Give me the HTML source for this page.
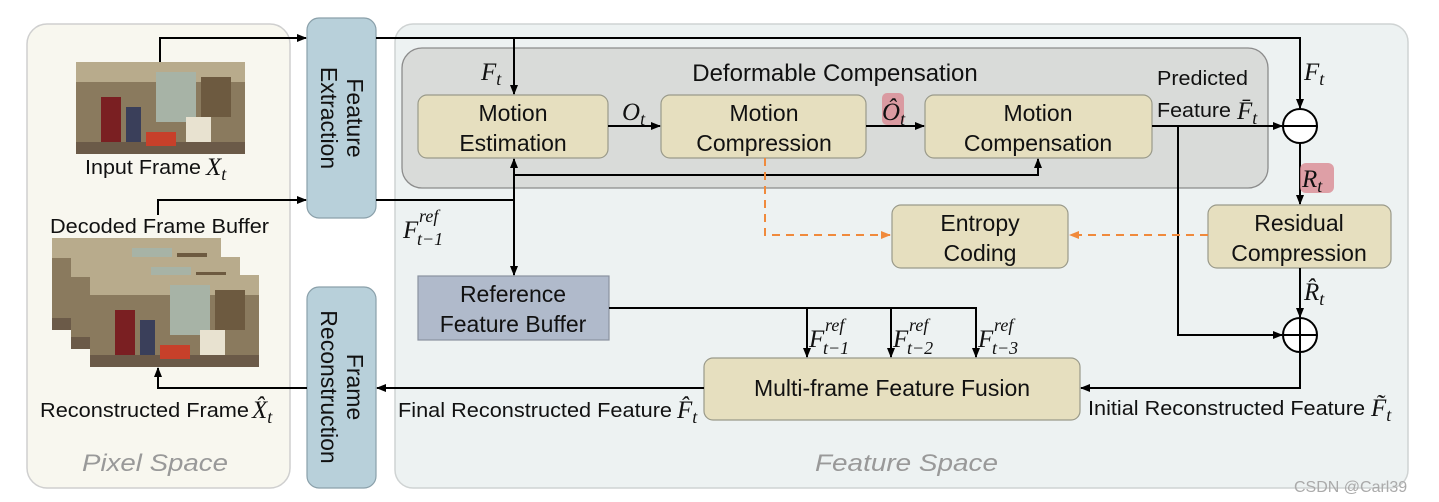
<!DOCTYPE html>
<html><head><meta charset="utf-8"><style>
html,body{margin:0;padding:0;background:#fff;}
svg{display:block}
.t{font-family:"Liberation Sans",sans-serif;fill:#111}
.m{font-family:"Liberation Serif",serif;font-style:italic;fill:#111}
.s{font-family:"Liberation Serif",serif;font-style:italic;fill:#111;font-size:18px}
</style></head><body>
<svg width="1439" height="502" viewBox="0 0 1439 502" xmlns="http://www.w3.org/2000/svg">
<defs>
<marker id="a" markerWidth="10" markerHeight="10" refX="9" refY="5" orient="auto" markerUnits="userSpaceOnUse"><path d="M0,1 L10,5 L0,9 z" fill="#000"/></marker>
<marker id="o" markerWidth="10" markerHeight="10" refX="9" refY="5" orient="auto" markerUnits="userSpaceOnUse"><path d="M0,1 L10,5 L0,9 z" fill="#f08a3c"/></marker>
<g id="img">
<rect width="169" height="92" fill="#8a7a5e"/>
<rect x="0" y="0" width="169" height="20" fill="#b8ab8c"/>
<rect x="80" y="10" width="40" height="50" fill="#a7b3a6"/>
<rect x="125" y="15" width="30" height="40" fill="#6d5a40"/>
<rect x="25" y="35" width="20" height="45" fill="#7a1f22"/>
<rect x="50" y="45" width="15" height="40" fill="#3a3f5a"/>
<rect x="110" y="55" width="25" height="30" fill="#e8e2d0"/>
<rect x="0" y="80" width="169" height="12" fill="#6b5a48"/>
<rect x="70" y="70" width="30" height="14" fill="#c7402a"/>
</g>
</defs>
<rect x="27" y="24" width="263" height="464" rx="20" fill="#f8f7ef" stroke="#cfcfcf" stroke-width="1.5"/>
<rect x="395" y="24" width="1013" height="464" rx="18" fill="#edf2f2" stroke="#cfd3d3" stroke-width="1.5"/>
<rect x="307" y="18" width="69" height="200" rx="12" fill="#b8d0da" stroke="#8aa0aa" stroke-width="1.2"/>
<rect x="307" y="287" width="69" height="201" rx="12" fill="#b8d0da" stroke="#8aa0aa" stroke-width="1.2"/>
<rect x="402" y="48" width="866" height="140" rx="20" fill="#d9dbd9" stroke="#8c8c8c" stroke-width="1.3"/>
<g fill="#e6dfbf" stroke="#9a9a8a" stroke-width="1.2">
<rect x="418" y="95" width="190" height="63" rx="9"/>
<rect x="661" y="95" width="205" height="63" rx="9"/>
<rect x="925" y="95" width="227" height="63" rx="9"/>
<rect x="892" y="205" width="176" height="63" rx="9"/>
<rect x="1208" y="205" width="183" height="63" rx="9"/>
<rect x="704" y="358" width="376" height="62" rx="9"/>
</g>
<rect x="418" y="276" width="191" height="64" fill="#b0bacb" stroke="#8a92a0" stroke-width="1.2"/>
<use href="#img" x="76" y="62"/>
<use href="#img" x="52" y="238"/>
<use href="#img" x="71" y="257"/>
<use href="#img" x="90" y="275"/>
<g fill="#fff" stroke="#000" stroke-width="2">
<circle cx="1300" cy="126" r="17"/>
<circle cx="1300" cy="335" r="17"/>
</g>
<path d="M1283,126 H1317 M1283,335 H1317 M1300,318 V352" stroke="#000" stroke-width="2"/>
<g stroke="#000" stroke-width="2" fill="none">
<path d="M160,62 V38 H306" marker-end="url(#a)"/>
<path d="M158,215 V200 H306" marker-end="url(#a)"/>
<path d="M376,38 H1300 V108" marker-end="url(#a)"/>
<path d="M514,38 V94" marker-end="url(#a)"/>
<path d="M376,200 H514"/>
<path d="M514,200 V159" marker-end="url(#a)"/>
<path d="M514,200 V275" marker-end="url(#a)"/>
<path d="M514,175 H1038 V159" marker-end="url(#a)"/>
<path d="M608,126 H660" marker-end="url(#a)"/>
<path d="M866,126 H924" marker-end="url(#a)"/>
<path d="M1152,126 H1282" marker-end="url(#a)"/>
<path d="M1178,126 V335 H1282" marker-end="url(#a)"/>
<path d="M1300,143 V204" marker-end="url(#a)"/>
<path d="M1300,268 V317" marker-end="url(#a)"/>
<path d="M1300,352 V388 H1081" marker-end="url(#a)"/>
<path d="M704,388 H377" marker-end="url(#a)"/>
<path d="M307,388 H158 V368" marker-end="url(#a)"/>
<path d="M609,308 H976 V357" marker-end="url(#a)"/>
<path d="M807,308 V357" marker-end="url(#a)"/>
<path d="M891,308 V357" marker-end="url(#a)"/>
</g>
<g stroke="#f08a3c" stroke-width="2" fill="none" stroke-dasharray="8,6">
<path d="M765,158 V235 H890" marker-end="url(#o)"/>
<path d="M1208,235 H1070" marker-end="url(#o)"/>
</g>
<rect x="882" y="93" width="22" height="32" rx="5" fill="#d98a92" opacity="0.8"/>
<rect x="1300" y="163" width="34" height="30" rx="6" fill="#d98a92" opacity="0.8"/>
<g class="t" font-size="23" text-anchor="middle">
<text x="513" y="121">Motion</text><text x="513" y="151">Estimation</text>
<text x="764" y="121">Motion</text><text x="764" y="151">Compression</text>
<text x="1038" y="121">Motion</text><text x="1038" y="151">Compensation</text>
<text x="980" y="231">Entropy</text><text x="980" y="261">Coding</text>
<text x="1299" y="231">Residual</text><text x="1299" y="261">Compression</text>
<text x="513" y="302">Reference</text><text x="513" y="332">Feature Buffer</text>
<text x="892" y="396">Multi-frame Feature Fusion</text>
<text x="835" y="81" font-size="24">Deformable Compensation</text>
<text transform="translate(347,118) rotate(90)">Feature</text>
<text transform="translate(321,118) rotate(90)">Extraction</text>
<text transform="translate(347,387) rotate(90)">Frame</text>
<text transform="translate(321,387) rotate(90)">Reconstruction</text>
</g>
<g class="t" font-size="20">
<text x="85" y="174" textLength="116" lengthAdjust="spacingAndGlyphs">Input Frame</text>
<text x="50" y="233" textLength="219" lengthAdjust="spacingAndGlyphs">Decoded Frame Buffer</text>
<text x="40" y="417" textLength="209" lengthAdjust="spacingAndGlyphs">Reconstructed Frame</text>
<text x="398" y="417" textLength="274" lengthAdjust="spacingAndGlyphs">Final Reconstructed Feature</text>
<text x="1088" y="415" textLength="277" lengthAdjust="spacingAndGlyphs">Initial Reconstructed Feature</text>
<text x="1157" y="85" textLength="91" lengthAdjust="spacingAndGlyphs">Predicted</text>
<text x="1157" y="117" textLength="74" lengthAdjust="spacingAndGlyphs">Feature</text>
</g>
<g class="t" font-size="24" font-style="italic" style="fill:#999">
<text x="82" y="471" textLength="146" lengthAdjust="spacingAndGlyphs">Pixel Space</text>
<text x="815" y="471" textLength="183" lengthAdjust="spacingAndGlyphs">Feature Space</text>
</g>
<text x="1294" y="492" class="t" font-size="16" style="fill:#aaa">CSDN @Carl39</text>
<g class="m" font-size="25">
<text x="206" y="175">X<tspan class="s" dy="5">t</tspan></text>
<text x="252" y="418">X̂<tspan class="s" dy="5">t</tspan></text>
<text x="481" y="80">F<tspan class="s" dy="5">t</tspan></text>
<text x="622" y="120">O<tspan class="s" dy="5">t</tspan></text>
<text x="882" y="120">Ô<tspan class="s" dy="5">t</tspan></text>
<text x="1237" y="119">F̄<tspan class="s" dy="5">t</tspan></text>
<text x="1304" y="80">F<tspan class="s" dy="5">t</tspan></text>
<text x="1302" y="187">R<tspan class="s" dy="5">t</tspan></text>
<text x="1304" y="300">R̂<tspan class="s" dy="5">t</tspan></text>
<text x="677" y="418">F̂<tspan class="s" dy="5">t</tspan></text>
<text x="1371" y="416">F̃<tspan class="s" dy="5">t</tspan></text>
<text x="403" y="238">F</text><text x="419" y="222" class="s" font-size="19">ref</text><text x="417" y="245" class="s" font-size="19">t−1</text>
<text x="809" y="347">F</text><text x="825" y="331" class="s" font-size="19">ref</text><text x="823" y="354" class="s" font-size="19">t−1</text>
<text x="893" y="347">F</text><text x="909" y="331" class="s" font-size="19">ref</text><text x="907" y="354" class="s" font-size="19">t−2</text>
<text x="978" y="347">F</text><text x="994" y="331" class="s" font-size="19">ref</text><text x="992" y="354" class="s" font-size="19">t−3</text>
</g>
</svg>
</body></html>
